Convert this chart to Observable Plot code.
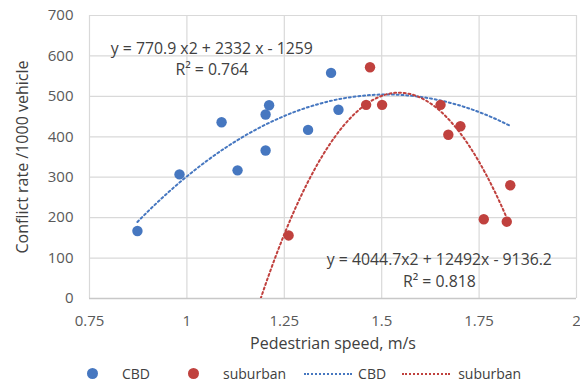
<!DOCTYPE html>
<html>
<head>
<meta charset="utf-8">
<script src="https://cdn.jsdelivr.net/npm/d3@7"></script>
<script src="https://cdn.jsdelivr.net/npm/@observablehq/plot@0.6"></script>
<style>
  body { margin: 0; background: #fff; font-family: "Open Sans", sans-serif; }
  #chart { width: 580px; }
  .legend { display: flex; align-items: center; height: 27px; font-size: 14px; color: #404040; padding-left: 87px; }
  .legend .dot { width: 11px; height: 11px; border-radius: 50%; display: inline-block; }
  .legend .dash { width: 48px; height: 0; border-top: 2px dotted; display: inline-block; }
</style>
</head>
<body>
<div id="chart"></div>
<script>
// CBD observations
const cbdSpeed = [0.873, 0.981, 1.089, 1.130, 1.202, 1.202, 1.211, 1.311, 1.370, 1.389];
const cbdRate  = [167, 307, 436, 317, 366, 455, 478, 417, 558, 467];
// suburban observations
const subSpeed = [1.261, 1.460, 1.470, 1.501, 1.651, 1.671, 1.702, 1.762, 1.821, 1.830];
const subRate  = [156, 479, 572, 479, 479, 405, 426, 196, 190, 280];
// trendline coefficients (a, b, c) for y = a x^2 + b x + c, as printed (a is negative)
const cbdCoef = [-770.9, 2332, -1259];
const subCoef = [-4044.7, 12492, -9136.2];
const cbdRange = [0.873, 1.830];
const subRange = [1.1894, 1.830];
// labels
const eqLabels = ["y = 770.9 x2 + 2332 x - 1259", "R² = 0.764", "y = 4044.7x2 + 12492x - 9136.2", "R² = 0.818"];
const eqX = [1.064, 1.064, 1.648, 1.648];
const eqY = [617, 565, 96, 41];
const xTicks = [0.75, 1, 1.25, 1.5, 1.75, 2];
const yTicks = [0, 100, 200, 300, 400, 500, 600, 700];
const colors = {CBD: "#4677c0", suburban: "#c0413e"};

const pts = [
  ...cbdSpeed.map((x, i) => ({x, y: cbdRate[i], s: "CBD"})),
  ...subSpeed.map((x, i) => ({x, y: subRate[i], s: "suburban"}))
];
function curve(coef, range, s) {
  const n = 80, out = [];
  for (let i = 0; i <= n; i++) {
    const x = range[0] + (range[1] - range[0]) * i / n;
    out.push({x, y: coef[0]*x*x + coef[1]*x + coef[2], s});
  }
  return out;
}
const trend = [...curve(cbdCoef, cbdRange, "CBD"), ...curve(subCoef, subRange, "suburban")];
const eqs = eqLabels.map((t, i) => ({t, x: eqX[i], y: eqY[i]}));

const chart = Plot.plot({
  width: 580,
  height: 360,
  marginLeft: 89,
  marginRight: 4,
  marginTop: 15,
  marginBottom: 62,
  style: {fontFamily: "Open Sans, sans-serif", fontSize: "15px", color: "#595959", overflow: "visible"},
  x: {domain: [0.75, 2], ticks: xTicks, tickFormat: d => String(d), label: null},
  y: {domain: [0, 700], ticks: yTicks, label: null},
  color: {domain: ["CBD", "suburban"], range: [colors.CBD, colors.suburban]},
  marks: [
    Plot.gridX(xTicks, {stroke: "#d9d9d9", strokeOpacity: 1, strokeWidth: 1.2}),
    Plot.gridY(yTicks, {stroke: "#d9d9d9", strokeOpacity: 1, strokeWidth: 1.2}),
    Plot.ruleY([0], {stroke: "#c8c8c8", strokeWidth: 1.4}),
    Plot.axisX(xTicks, {tickSize: 0, tickPadding: 17, fontSize: 15, fill: "#595959", tickFormat: d => String(d), label: null}),
    Plot.axisY(yTicks, {tickSize: 0, tickPadding: 16, fontSize: 15, fill: "#595959", label: null}),
    Plot.line(trend, {x: "x", y: "y", z: "s", stroke: "s", strokeWidth: 2, strokeDasharray: "2,2.8", clip: true}),
    Plot.dot(pts, {x: "x", y: "y", fill: "s", r: 5.2, stroke: null}),
    Plot.text(eqs, {x: "x", y: "y", text: "t", fontSize: 15.8, fill: "#404040", textAnchor: "middle"}),
    Plot.text(["Pedestrian speed, m/s"], {frameAnchor: "bottom", lineAnchor: "middle", dy: 45, fontSize: 16, fill: "#404040", text: d => d}),
    Plot.text(["Conflict rate /1000 vehicle"], {frameAnchor: "left", textAnchor: "middle", lineAnchor: "middle", dx: -67, rotate: -90, fontSize: 16, fill: "#404040", text: d => d})
  ]
});
document.getElementById("chart").appendChild(chart);

const legend = document.createElement("div");
legend.className = "legend";
legend.innerHTML = `
  <span class="dot" style="background:${colors.CBD}"></span><span style="margin-left:24px">CBD</span>
  <span class="dot" style="background:${colors.suburban};margin-left:38px"></span><span style="margin-left:24px">suburban</span>
  <span class="dash" style="border-color:${colors.CBD};margin-left:18px"></span><span style="margin-left:6px">CBD</span>
  <span class="dash" style="border-color:${colors.suburban};margin-left:16px"></span><span style="margin-left:8px">suburban</span>`;
document.body.appendChild(legend);
</script>
</body>
</html>
